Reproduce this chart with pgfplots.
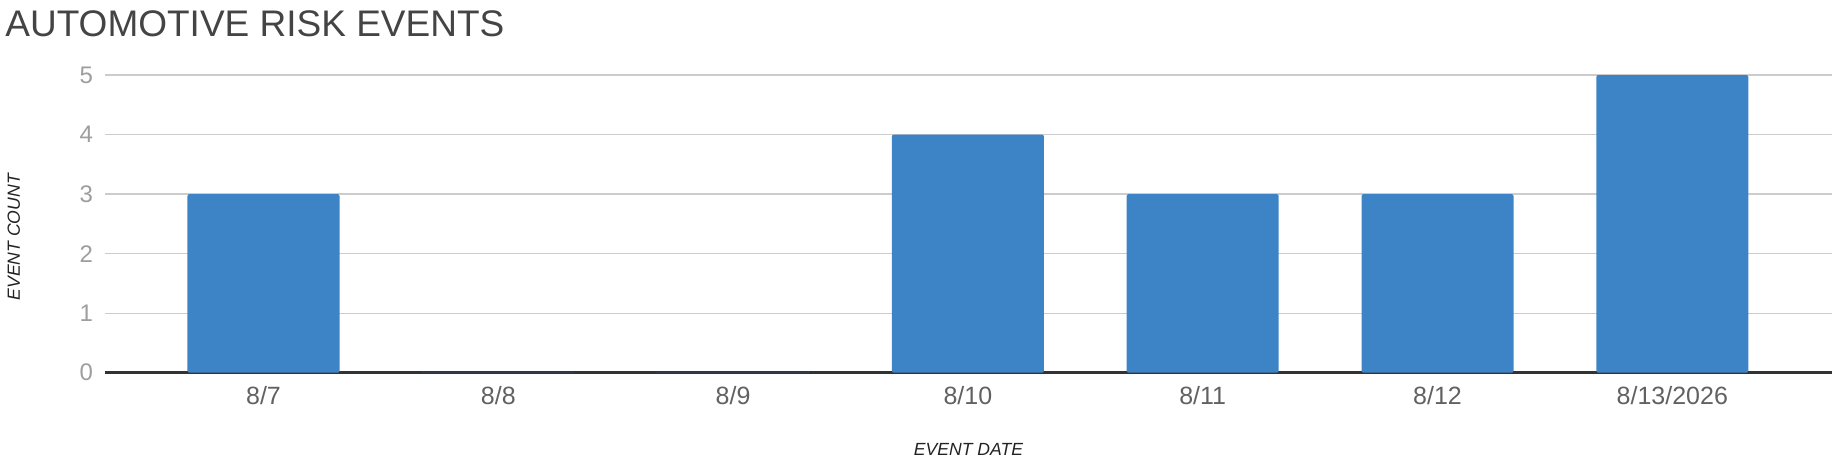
\documentclass[border=0pt]{standalone}
\usepackage{pgfplots}
\pgfplotsset{compat=1.18}
\usepackage{fontspec}
\setmainfont{Liberation Sans}

\definecolor{barblue}{HTML}{3D84C6}
\definecolor{gridgray}{HTML}{CCCCCC}
\definecolor{axisdark}{HTML}{333333}
\definecolor{ytickgray}{HTML}{9E9E9E}
\definecolor{xtickgray}{HTML}{616161}
\definecolor{titlegray}{HTML}{444444}
\definecolor{labelblack}{HTML}{222222}

\begin{document}
\begin{tikzpicture}
\begin{axis}[
    at={(0,0)}, anchor=south west,
    scale only axis,
    width=863.5pt, height=148.85pt,
    ybar,
    bar width=0.6475, % in axis units
    xmin=-0.675, xmax=6.68,
    ymin=0, ymax=5,
    xtick=data,
    xticklabels={8/7,8/8,8/9,8/10,8/11,8/12,8/13/2026},
    ytick={0,1,2,3,4,5},
    /pgf/number format/assume math mode=true,
    axis lines*=left,
    x axis line style={draw=axisdark, line width=1.3pt, -},
    y axis line style={draw=none},
    major tick length=0pt,
    ymajorgrids,
    major grid style={draw=gridgray, line width=0.65pt},
    yticklabel style={anchor=east, inner sep=0pt, xshift=-5.85pt,
        text=ytickgray, font=\fontsize{12}{14}\selectfont},
    xticklabel style={anchor=base, inner sep=0pt, yshift=-15.65pt,
        text=xtickgray, font=\fontsize{12.5}{14}\selectfont},
    xlabel={EVENT DATE},
    xlabel style={at={(rel axis cs:0.5,0)}, anchor=base, inner sep=0pt,
        yshift=-41.15pt, text=labelblack, font=\fontsize{8.8}{11}\selectfont\itshape},
    ylabel={EVENT COUNT},
    ylabel style={at={(rel axis cs:-0.04922,0.455)}, anchor=base,
        inner sep=0pt, text=labelblack,
        font=\fontsize{8.8}{11}\selectfont\itshape},
    ]
\addplot [fill=barblue, draw=none, rounded corners=1pt] coordinates {
    (0,3)
    (1,0)
    (2,0)
    (3,4)
    (4,3)
    (5,3)
    (6,5)};
\end{axis}
\node [anchor=north west, inner sep=0pt, text=titlegray,
    font=\fontsize{18.5}{22}\selectfont] at (-50pt,181.35pt) {AUTOMOTIVE RISK EVENTS};
% page size: 1px of the reference = 0.5pt
\path (-52.5pt,-47.65pt) rectangle (866.5pt,186.35pt);
\end{tikzpicture}
\end{document}
